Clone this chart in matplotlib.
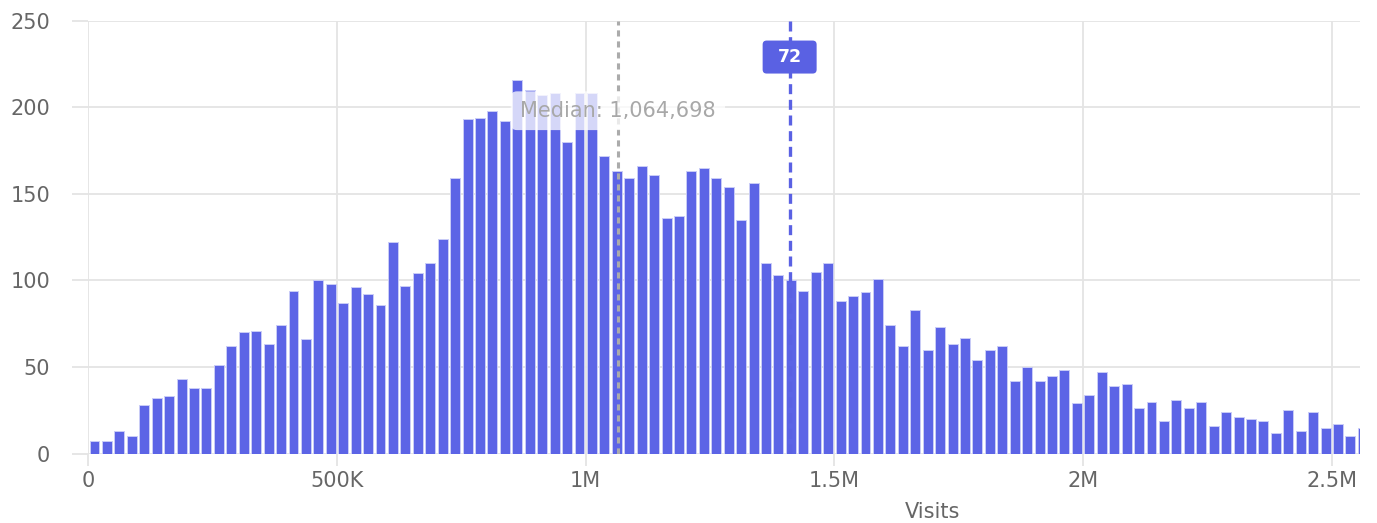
import numpy as np
import matplotlib.pyplot as plt
import matplotlib.transforms as mtransforms
from matplotlib.patches import FancyBboxPatch

# histogram of visits per site, 25K-wide bins starting at 0
bin_width = 25_000
counts = [
    7, 7, 13, 10, 28, 32, 33, 43, 38, 38, 51, 62, 70, 71, 63, 74, 94,
    66, 100, 98, 87, 96, 92, 86, 122, 97, 104, 110, 124, 159, 193, 194, 198, 192,
    216, 210, 207, 208, 180, 208, 208,
    172, 163, 159, 166, 161, 136, 137, 163, 165, 159, 154, 135, 156,
    110, 103, 100, 94, 105, 110, 88, 91, 93, 101, 74, 62, 83,
    60, 73, 63, 67, 54, 60, 62, 42, 50, 42, 45, 48, 29, 34, 47, 39, 40, 26, 30,
    19, 31, 26, 30, 16, 24, 21, 20, 19, 12, 25, 13, 24, 15, 17, 10, 15,
]
median_visits = 1_064_698
site_visits = 1_410_000
site_label = "72"

x_ticks = [0, 500_000, 1_000_000, 1_500_000, 2_000_000, 2_500_000]
x_tick_labels = ["0", "500K", "1M", "1.5M", "2M", "2.5M"]
y_ticks = [0, 50, 100, 150, 200, 250]

BAR = "#5c64e6"
BAR_EDGE = "#c9ccf7"
MARK = "#5a61e3"
GRID = "#e4e4e4"
TEXT = "#666666"

plt.rcParams['font.family'] = ['DejaVu Sans']

W, H = 1377, 523
fig = plt.figure(figsize=(W / 100, H / 100), dpi=100)
ax = fig.add_axes([88.3 / W, 1 - 453.5 / H, (1360 - 88.3) / W, (453.5 - 20.7) / H])

left = np.arange(len(counts)) * bin_width
ax.bar(left + bin_width / 2, counts, width=bin_width * 0.8, color=BAR,
       edgecolor=BAR_EDGE, linewidth=0.7, zorder=2)

ax.set_xlim(0, 2_556_700)
ax.set_ylim(0, 250)
ax.set_xticks(x_ticks)
ax.set_xticklabels(x_tick_labels)
ax.set_yticks(y_ticks)

ax.grid(True, color=GRID, linewidth=1.3, zorder=0)
ax.set_axisbelow(True)
for s in ax.spines.values():
    s.set_visible(False)
ax.tick_params(axis='y', length=11.5, width=1.3, color=GRID, pad=16,
               labelsize=15, labelcolor=TEXT)
ax.tick_params(axis='x', length=8.6, width=1.3, color=GRID, pad=4,
               labelsize=15, labelcolor=TEXT)

# median marker
ax.axvline(median_visits, color="#ababab", linewidth=2.2,
           linestyle=(0, (2.0, 1.6)), zorder=3)
ax.text(median_visits, 198, f"Median: {median_visits:,}", ha='center', va='center',
        fontsize=15, color="#a8a8a8", zorder=4,
        bbox=dict(boxstyle="round,pad=0.45,rounding_size=0.3", fc="white",
                  ec="none", alpha=0.75))

# selected site marker
ax.axvline(site_visits, color=MARK, linewidth=2.4,
           linestyle=(0, (3.0, 1.7)), zorder=3)
anchor = mtransforms.ScaledTranslation(site_visits, 229, ax.transData)
tag = FancyBboxPatch((-0.27, -0.165), 0.54, 0.33,
                     boxstyle="round,pad=0,rounding_size=0.04",
                     fc=MARK, ec="none", zorder=5,
                     transform=fig.dpi_scale_trans + anchor)
ax.add_patch(tag)
ax.text(site_visits, 229, site_label, ha='center', va='center', fontsize=12.5,
        fontweight='bold', color='white', zorder=6)

fig.text(933 / W, 1 - 512 / H, "Visits", ha='center', va='center',
         fontsize=15, color=TEXT)

fig.savefig("out.png", dpi=100)
